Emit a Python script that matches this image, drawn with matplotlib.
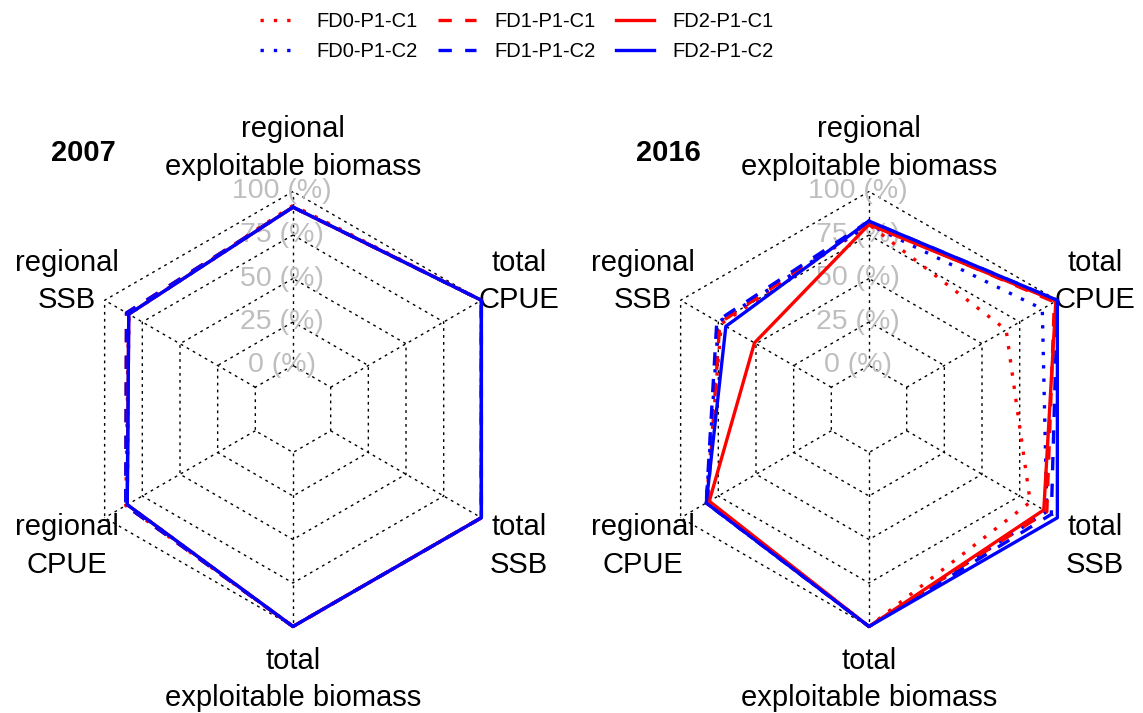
import numpy as np
import matplotlib
matplotlib.use("Agg")
import matplotlib.pyplot as plt
from matplotlib.lines import Line2D

plt.rcParams['font.family'] = ['Liberation Sans', 'DejaVu Sans']

# ---------------- data ----------------
axis_labels = ["regional\nexploitable biomass", "regional\nSSB", "regional\nCPUE",
               "total\nexploitable biomass", "total\nSSB", "total\nCPUE"]
series_names = ["FD0-P1-C1", "FD0-P1-C2", "FD1-P1-C1", "FD1-P1-C2", "FD2-P1-C1", "FD2-P1-C2"]
series_colors = ["red", "blue", "red", "blue", "red", "blue"]
series_styles = ["dot", "dot", "dash", "dash", "solid", "solid"]
caxis_labels = ["0 (%)", "25 (%)", "50 (%)", "75 (%)", "100 (%)"]
years = ["2007", "2016"]

# values (%) per series, axis order as axis_labels
vals_2007 = {
    "FD0-P1-C1": [92, 84, 86, 100, 100, 100],
    "FD0-P1-C2": [91, 84, 85, 100, 100, 100],
    "FD1-P1-C1": [91, 85.5, 86, 100, 100, 100],
    "FD1-P1-C2": [91, 85.5, 86, 100, 100, 100],
    "FD2-P1-C1": [91, 84, 85, 100, 100, 100],
    "FD2-P1-C2": [91, 84, 85, 100, 100, 100],
}
vals_2016 = {
    "FD0-P1-C1": [81, 73, 83, 100, 82, 66],
    "FD0-P1-C2": [81, 75, 83, 100, 93, 90],
    "FD1-P1-C1": [82, 74, 82, 100, 93, 98],
    "FD1-P1-C2": [83, 76, 83, 100, 96, 100],
    "FD2-P1-C1": [81, 51, 81, 100, 91, 99],
    "FD2-P1-C2": [83, 70, 83, 100, 100, 100],
}
all_vals = [vals_2007, vals_2016]

# ---------------- layout ----------------
W, H, DPI = 1143, 713, 100
fig = plt.figure(figsize=(W / DPI, H / DPI), dpi=DPI)

R_PX = 217.5
centers_px = [(293, 409), (869, 409)]
LIM = 1.25
title_px = [(83, 153), (668, 153)]

LW = 2.4
dash_map = {"dot": (0, (1, 3)), "dash": (0, (4, 4)), "solid": "-"}
GRID_LS = (0, (2, 3))

n = len(axis_labels)
theta = np.deg2rad(90 + 360.0 * np.arange(n) / n)
seg = len(caxis_labels) - 1
cgap = 1
label_yoff = [0.0, -0.014, -0.03, -0.043, -0.03, -0.014]


def rad(v):
    return (np.asarray(v, float) / 100.0 * seg + cgap) / (seg + cgap)


for k, (cx, cy) in enumerate(centers_px):
    size = 2 * LIM * R_PX
    ax = fig.add_axes([(cx - size / 2) / W, (H - cy - size / 2) / H, size / W, size / H])
    ax.set_xlim(-LIM, LIM)
    ax.set_ylim(-LIM, LIM)
    ax.set_aspect('equal')
    ax.axis('off')

    # grid polygons
    for i in range(seg + 1):
        r = (i + cgap) / (seg + cgap)
        xs = np.append(r * np.cos(theta), r * np.cos(theta[0]))
        ys = np.append(r * np.sin(theta), r * np.sin(theta[0]))
        ax.plot(xs, ys, color='black', lw=1.0, linestyle=GRID_LS, zorder=1)
    # spokes
    r0 = cgap / (seg + cgap)
    for t in theta:
        ax.plot([r0 * np.cos(t), np.cos(t)], [r0 * np.sin(t), np.sin(t)],
                color='black', lw=1.0, linestyle=GRID_LS, zorder=1)
    # axis value labels
    for i, lab in enumerate(caxis_labels):
        r = (i + cgap) / (seg + cgap)
        ax.text(-0.05, r, lab, color='#BEBEBE', fontsize=20.5, ha='center', va='center', zorder=2)
    # variable labels
    for t, lab, yoff in zip(theta, axis_labels, label_yoff):
        ax.text(1.2 * np.cos(t), 1.2 * np.sin(t) + yoff, lab, fontsize=21, ha='center', va='center',
                linespacing=1.42, zorder=2)
    # series
    vals = all_vals[k]
    for name, col, st in zip(series_names, series_colors, series_styles):
        r = rad(vals[name])
        xs = np.append(r * np.cos(theta), r[0] * np.cos(theta[0]))
        ys = np.append(r * np.sin(theta), r[0] * np.sin(theta[0]))
        ax.plot(xs, ys, color=col, lw=LW, linestyle=dash_map[st], zorder=3)

    tx, ty = title_px[k]
    fig.text(tx / W, 1 - ty / H, years[k], fontsize=21, fontweight='bold', ha='center', va='center')

handles = [Line2D([0], [0], color=c, lw=LW, linestyle=dash_map[s])
           for c, s in zip(series_colors, series_styles)]
fig.legend(handles, series_names, loc='upper center', bbox_to_anchor=(517 / W, 1.0), ncol=3,
           frameon=False, handlelength=1.9, handletextpad=0.9, columnspacing=1.0,
           labelspacing=0.55, borderpad=0.1, prop={'size': 14.5})

fig.savefig("out.png", dpi=DPI)
